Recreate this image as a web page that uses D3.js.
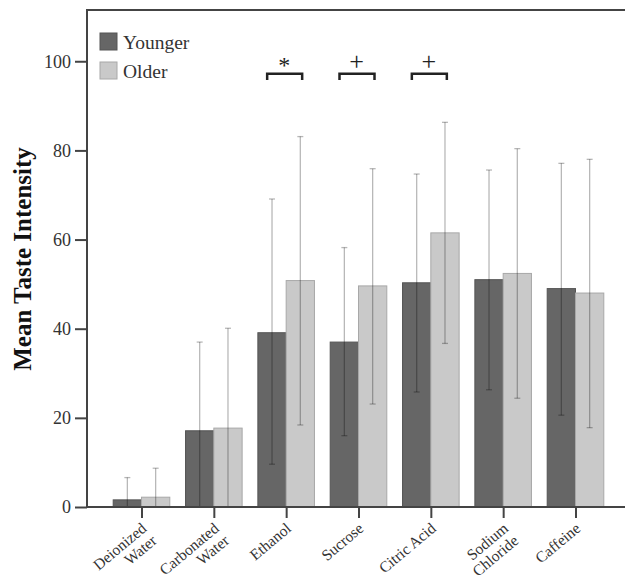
<!DOCTYPE html>
<html>
<head>
<meta charset="utf-8">
<title>Mean Taste Intensity</title>
<script src="https://d3js.org/d3.v7.min.js"></script>
<style>
  body { margin: 0; background: #fff; }
  text { font-family: "Liberation Serif", "Times New Roman", serif; }
</style>
</head>
<body>
<div id="chart"></div>
<script>
// data
var categories = ["Deionized\nWater", "Carbonated\nWater", "Ethanol", "Sucrose", "Citric Acid", "Sodium\nChloride", "Caffeine"];
var groups = ["Younger", "Older"];
var youngerMean = [1.6, 17.1, 39.1, 37.0, 50.3, 51.0, 49.0];
var olderMean   = [2.2, 17.7, 50.8, 49.6, 61.5, 52.4, 48.0];
var youngerLow  = [0, 0, 9.6, 16.0, 25.8, 26.3, 20.6];
var youngerHigh = [6.6, 37.0, 69.1, 58.2, 74.7, 75.6, 77.1];
var olderLow    = [0, 0, 18.4, 23.1, 36.7, 24.4, 17.8];
var olderHigh   = [8.7, 40.1, 83.1, 75.9, 86.3, 80.4, 78.0];
var yTicks = [0, 20, 40, 60, 80, 100];
var marks = [{cat: "Ethanol", sym: "*"}, {cat: "Sucrose", sym: "+"}, {cat: "Citric Acid", sym: "+"}];

var width = 625, height = 577;
var plotL = 87, plotR = 640, plotT = 10, plotB = 507;

var svg = d3.select("#chart").append("svg")
  .attr("width", width).attr("height", height);

var x = d3.scalePoint().domain(categories).range([141.5, 575.5]);
var sub = d3.scaleBand().domain(groups).range([-28.3, 28.3]);
var y = d3.scaleLinear().domain([0, 111.5]).range([plotB, plotT]);
var color = d3.scaleOrdinal().domain(groups).range(["#666666", "#c9c9c9"]);
var edge = d3.scaleOrdinal().domain(groups).range(["#555555", "#a8a8a8"]);

var rows = [];
categories.forEach(function(c, i) {
  rows.push({cat: c, g: "Younger", v: youngerMean[i], lo: youngerLow[i], hi: youngerHigh[i]});
  rows.push({cat: c, g: "Older", v: olderMean[i], lo: olderLow[i], hi: olderHigh[i]});
});

// bars
svg.append("g").selectAll("rect").data(rows).enter().append("rect")
  .attr("x", function(d) { return x(d.cat) + sub(d.g); })
  .attr("width", sub.bandwidth())
  .attr("y", function(d) { return y(d.v); })
  .attr("height", function(d) { return y(0) - y(d.v); })
  .attr("fill", function(d) { return color(d.g); })
  .attr("stroke", function(d) { return edge(d.g); })
  .attr("stroke-width", 1);

// error bars
var err = svg.append("g").attr("stroke", "rgba(0,0,0,0.28)").attr("stroke-width", 1.3);
rows.forEach(function(d) {
  var cx = x(d.cat) + sub(d.g) + sub.bandwidth() / 2;
  err.append("line").attr("x1", cx).attr("x2", cx).attr("y1", y(d.lo)).attr("y2", y(d.hi));
  err.append("line").attr("x1", cx - 3).attr("x2", cx + 3).attr("y1", y(d.hi)).attr("y2", y(d.hi));
  if (d.lo > 0)
    err.append("line").attr("x1", cx - 3).attr("x2", cx + 3).attr("y1", y(d.lo)).attr("y2", y(d.lo));
});

// frame
svg.append("path")
  .attr("d", "M" + plotL + "," + plotB + "V" + plotT + "H" + plotR)
  .attr("fill", "none").attr("stroke", "#444").attr("stroke-width", 2);

// y axis
var yAxis = svg.append("g").attr("transform", "translate(" + plotL + ",0)")
  .call(d3.axisLeft(y).tickValues(yTicks).tickSize(12).tickPadding(4));
yAxis.select(".domain").remove();
yAxis.selectAll("line").attr("stroke", "#444").attr("stroke-width", 2);
yAxis.selectAll("text").attr("font-family", "Liberation Serif").attr("font-size", 18).attr("fill", "#333");

// x axis
var xAxis = svg.append("g").attr("transform", "translate(0," + plotB + ")")
  .call(d3.axisBottom(x).tickSize(11).tickFormat(""));
xAxis.select(".domain").attr("d", "M" + plotL + ",0H" + plotR).attr("stroke", "#444").attr("stroke-width", 2);
xAxis.selectAll("line").attr("stroke", "#444").attr("stroke-width", 2);

// category labels, rotated
categories.forEach(function(c) {
  var lines = c.split("\n");
  var t = svg.append("text")
    .attr("transform", "translate(" + (x(c) + 6) + "," + (plotB + 23) + ") rotate(-40)")
    .attr("text-anchor", "end")
    .attr("font-size", 15.5).attr("fill", "#333");
  lines.forEach(function(l, i) {
    t.append("tspan").attr("x", 0).attr("dy", i === 0 ? "0px" : "16px").text(l);
  });
});

// y label
svg.append("text")
  .attr("transform", "translate(31,259) rotate(-90)")
  .attr("text-anchor", "middle")
  .attr("font-size", 25).attr("font-weight", "bold").attr("fill", "#111")
  .text("Mean Taste Intensity");

// legend
var legend = svg.append("g").attr("transform", "translate(100,33)");
groups.forEach(function(g, i) {
  legend.append("rect").attr("x", 0).attr("y", i * 29).attr("width", 17).attr("height", 17)
    .attr("fill", color(g)).attr("stroke", edge(g));
  legend.append("text").attr("x", 23).attr("y", i * 29 + 16)
    .attr("font-size", 19.5).attr("fill", "#333").text(g);
});

// significance brackets
var sig = svg.append("g");
marks.forEach(function(m) {
  var cx = x(m.cat);
  var yb = y(97.2), yd = y(95.8);
  sig.append("path")
    .attr("d", "M" + (cx - 19) + "," + yd + "V" + yb + "H" + (cx + 16) + "V" + yd)
    .attr("fill", "none").attr("stroke", "#222").attr("stroke-width", 2.5);
  sig.append("text").attr("x", cx - 2).attr("y", m.sym === "*" ? yb - 1 : yb - 4)
    .attr("text-anchor", "middle")
    .attr("font-size", m.sym === "*" ? 24 : 26).attr("fill", "#222").text(m.sym);
});
</script>
</body>
</html>
